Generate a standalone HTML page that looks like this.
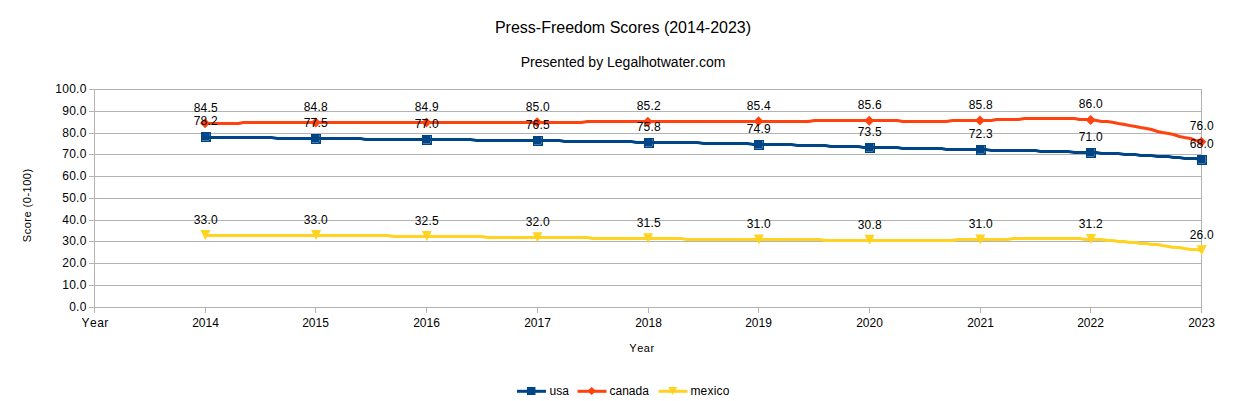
<!DOCTYPE html><html><head><meta charset="utf-8"><style>html,body{margin:0;padding:0;background:#fff;width:1246px;height:401px;overflow:hidden}text{font-family:"Liberation Sans",sans-serif;font-kerning:none;font-feature-settings:"kern" 0}</style></head><body><svg width="1246" height="401" viewBox="0 0 1246 401" style="display:block">
<rect width="1246" height="401" fill="#fff"/>
<line x1="89" y1="307.5" x2="1202" y2="307.5" stroke="#b3b3b3" stroke-width="1"/>
<text x="86.6" y="311.0" text-anchor="end" font-size="12" letter-spacing="0.25" fill="#000" >0.0</text>
<line x1="89" y1="285.5" x2="1202" y2="285.5" stroke="#b3b3b3" stroke-width="1"/>
<text x="86.6" y="289.0" text-anchor="end" font-size="12" letter-spacing="0.25" fill="#000" >10.0</text>
<line x1="89" y1="263.5" x2="1202" y2="263.5" stroke="#b3b3b3" stroke-width="1"/>
<text x="86.6" y="267.0" text-anchor="end" font-size="12" letter-spacing="0.25" fill="#000" >20.0</text>
<line x1="89" y1="241.5" x2="1202" y2="241.5" stroke="#b3b3b3" stroke-width="1"/>
<text x="86.6" y="245.0" text-anchor="end" font-size="12" letter-spacing="0.25" fill="#000" >30.0</text>
<line x1="89" y1="220.5" x2="1202" y2="220.5" stroke="#b3b3b3" stroke-width="1"/>
<text x="86.6" y="224.0" text-anchor="end" font-size="12" letter-spacing="0.25" fill="#000" >40.0</text>
<line x1="89" y1="198.5" x2="1202" y2="198.5" stroke="#b3b3b3" stroke-width="1"/>
<text x="86.6" y="202.0" text-anchor="end" font-size="12" letter-spacing="0.25" fill="#000" >50.0</text>
<line x1="89" y1="176.5" x2="1202" y2="176.5" stroke="#b3b3b3" stroke-width="1"/>
<text x="86.6" y="180.0" text-anchor="end" font-size="12" letter-spacing="0.25" fill="#000" >60.0</text>
<line x1="89" y1="154.5" x2="1202" y2="154.5" stroke="#b3b3b3" stroke-width="1"/>
<text x="86.6" y="158.0" text-anchor="end" font-size="12" letter-spacing="0.25" fill="#000" >70.0</text>
<line x1="89" y1="133.5" x2="1202" y2="133.5" stroke="#b3b3b3" stroke-width="1"/>
<text x="86.6" y="137.0" text-anchor="end" font-size="12" letter-spacing="0.25" fill="#000" >80.0</text>
<line x1="89" y1="111.5" x2="1202" y2="111.5" stroke="#b3b3b3" stroke-width="1"/>
<text x="86.6" y="115.0" text-anchor="end" font-size="12" letter-spacing="0.25" fill="#000" >90.0</text>
<line x1="89" y1="89.5" x2="1202" y2="89.5" stroke="#b3b3b3" stroke-width="1"/>
<text x="86.6" y="93.0" text-anchor="end" font-size="12" letter-spacing="0.25" fill="#000" >100.0</text>
<line x1="94.5" y1="89" x2="94.5" y2="313" stroke="#b3b3b3"/>
<line x1="1201.5" y1="89" x2="1201.5" y2="313" stroke="#b3b3b3"/>
<text x="95.2" y="327" text-anchor="middle" font-size="12" letter-spacing="0.45" fill="#000" >Year</text>
<line x1="205.5" y1="307" x2="205.5" y2="313" stroke="#b3b3b3"/>
<text x="205.5" y="327" text-anchor="middle" font-size="12" fill="#000" >2014</text>
<line x1="315.5" y1="307" x2="315.5" y2="313" stroke="#b3b3b3"/>
<text x="315.5" y="327" text-anchor="middle" font-size="12" fill="#000" >2015</text>
<line x1="426.5" y1="307" x2="426.5" y2="313" stroke="#b3b3b3"/>
<text x="426.5" y="327" text-anchor="middle" font-size="12" fill="#000" >2016</text>
<line x1="537.5" y1="307" x2="537.5" y2="313" stroke="#b3b3b3"/>
<text x="537.5" y="327" text-anchor="middle" font-size="12" fill="#000" >2017</text>
<line x1="648.5" y1="307" x2="648.5" y2="313" stroke="#b3b3b3"/>
<text x="648.5" y="327" text-anchor="middle" font-size="12" fill="#000" >2018</text>
<line x1="758.5" y1="307" x2="758.5" y2="313" stroke="#b3b3b3"/>
<text x="758.5" y="327" text-anchor="middle" font-size="12" fill="#000" >2019</text>
<line x1="869.5" y1="307" x2="869.5" y2="313" stroke="#b3b3b3"/>
<text x="869.5" y="327" text-anchor="middle" font-size="12" fill="#000" >2020</text>
<line x1="980.5" y1="307" x2="980.5" y2="313" stroke="#b3b3b3"/>
<text x="980.5" y="327" text-anchor="middle" font-size="12" fill="#000" >2021</text>
<line x1="1090.5" y1="307" x2="1090.5" y2="313" stroke="#b3b3b3"/>
<text x="1090.5" y="327" text-anchor="middle" font-size="12" fill="#000" >2022</text>
<text x="1201.5" y="327" text-anchor="middle" font-size="12" fill="#000" >2023</text>
<text x="642" y="352" text-anchor="middle" font-size="11" letter-spacing="0.55" fill="#000" >Year</text>
<text transform="translate(31,205.3) rotate(-90)" text-anchor="middle" font-size="11" letter-spacing="0.5" fill="#000" >Score (0-100)</text>
<text x="623" y="33" text-anchor="middle" font-size="16" fill="#000" >Press-Freedom Scores (2014-2023)</text>
<text x="623" y="67" text-anchor="middle" font-size="14" fill="#000" >Presented by Legalhotwater.com</text>
<polyline points="205.5,136.5 210.5,137.5 216.5,137.5 221.5,137.5 227.5,137.5 232.5,137.5 238.5,137.5 243.5,137.5 249.5,137.5 255.5,137.5 260.5,137.5 266.5,137.5 271.5,137.5 277.5,138.5 282.5,138.5 288.5,138.5 293.5,138.5 299.5,138.5 304.5,138.5 310.5,138.5 315.5,138.5 321.5,138.5 326.5,138.5 332.5,138.5 338.5,138.5 343.5,138.5 349.5,138.5 354.5,138.5 360.5,138.5 365.5,139.5 371.5,139.5 376.5,139.5 382.5,139.5 387.5,139.5 393.5,139.5 398.5,139.5 404.5,139.5 409.5,139.5 415.5,139.5 421.5,139.5 426.5,139.5 432.5,139.5 437.5,139.5 443.5,139.5 448.5,139.5 454.5,139.5 459.5,139.5 465.5,139.5 470.5,139.5 476.5,140.5 481.5,140.5 487.5,140.5 493.5,140.5 498.5,140.5 504.5,140.5 509.5,140.5 515.5,140.5 520.5,140.5 526.5,140.5 531.5,140.5 537.5,140.5 542.5,140.5 548.5,140.5 553.5,140.5 559.5,140.5 564.5,141.5 570.5,141.5 576.5,141.5 581.5,141.5 587.5,141.5 592.5,141.5 598.5,141.5 603.5,141.5 609.5,141.5 614.5,141.5 620.5,141.5 625.5,141.5 631.5,141.5 636.5,142.5 642.5,142.5 648.5,142.5 653.5,142.5 659.5,142.5 664.5,142.5 670.5,142.5 675.5,142.5 681.5,142.5 686.5,142.5 692.5,142.5 697.5,142.5 703.5,143.5 708.5,143.5 714.5,143.5 719.5,143.5 725.5,143.5 731.5,143.5 736.5,143.5 742.5,143.5 747.5,143.5 753.5,144.5 758.5,144.5 764.5,144.5 769.5,144.5 775.5,144.5 780.5,144.5 786.5,144.5 791.5,144.5 797.5,145.5 802.5,145.5 808.5,145.5 814.5,145.5 819.5,145.5 825.5,145.5 830.5,146.5 836.5,146.5 841.5,146.5 847.5,146.5 852.5,146.5 858.5,146.5 863.5,147.5 869.5,147.5 874.5,147.5 880.5,147.5 886.5,147.5 891.5,147.5 897.5,147.5 902.5,148.5 908.5,148.5 913.5,148.5 919.5,148.5 924.5,148.5 930.5,148.5 935.5,148.5 941.5,148.5 946.5,149.5 952.5,149.5 957.5,149.5 963.5,149.5 969.5,149.5 974.5,149.5 980.5,149.5 985.5,149.5 991.5,150.5 996.5,150.5 1002.5,150.5 1007.5,150.5 1013.5,150.5 1018.5,150.5 1024.5,150.5 1029.5,150.5 1035.5,150.5 1040.5,151.5 1046.5,151.5 1052.5,151.5 1057.5,151.5 1063.5,151.5 1068.5,151.5 1074.5,152.5 1079.5,152.5 1085.5,152.5 1090.5,152.5 1096.5,152.5 1101.5,153.5 1107.5,153.5 1112.5,153.5 1118.5,153.5 1124.5,154.5 1129.5,154.5 1135.5,154.5 1140.5,155.5 1146.5,155.5 1151.5,155.5 1157.5,156.5 1162.5,156.5 1168.5,156.5 1173.5,157.5 1179.5,157.5 1184.5,158.5 1190.5,158.5 1195.5,158.5 1201.5,159.5" fill="none" stroke="#004586" stroke-width="3" stroke-linejoin="round" stroke-linecap="butt"/>
<polyline points="205.5,123.5 210.5,123.5 216.5,123.5 221.5,123.5 227.5,123.5 232.5,123.5 238.5,123.5 243.5,122.5 249.5,122.5 255.5,122.5 260.5,122.5 266.5,122.5 271.5,122.5 277.5,122.5 282.5,122.5 288.5,122.5 293.5,122.5 299.5,122.5 304.5,122.5 310.5,122.5 315.5,122.5 321.5,122.5 326.5,122.5 332.5,122.5 338.5,122.5 343.5,122.5 349.5,122.5 354.5,122.5 360.5,122.5 365.5,122.5 371.5,122.5 376.5,122.5 382.5,122.5 387.5,122.5 393.5,122.5 398.5,122.5 404.5,122.5 409.5,122.5 415.5,122.5 421.5,122.5 426.5,122.5 432.5,122.5 437.5,122.5 443.5,122.5 448.5,122.5 454.5,122.5 459.5,122.5 465.5,122.5 470.5,122.5 476.5,122.5 481.5,122.5 487.5,122.5 493.5,122.5 498.5,122.5 504.5,122.5 509.5,122.5 515.5,122.5 520.5,122.5 526.5,122.5 531.5,122.5 537.5,122.5 542.5,122.5 548.5,122.5 553.5,122.5 559.5,122.5 564.5,122.5 570.5,122.5 576.5,122.5 581.5,122.5 587.5,121.5 592.5,121.5 598.5,121.5 603.5,121.5 609.5,121.5 614.5,121.5 620.5,121.5 625.5,121.5 631.5,121.5 636.5,121.5 642.5,121.5 648.5,121.5 653.5,121.5 659.5,121.5 664.5,121.5 670.5,121.5 675.5,121.5 681.5,121.5 686.5,121.5 692.5,121.5 697.5,121.5 703.5,121.5 708.5,121.5 714.5,121.5 719.5,121.5 725.5,121.5 731.5,121.5 736.5,121.5 742.5,121.5 747.5,121.5 753.5,121.5 758.5,121.5 764.5,121.5 769.5,121.5 775.5,121.5 780.5,121.5 786.5,121.5 791.5,121.5 797.5,121.5 802.5,121.5 808.5,121.5 814.5,120.5 819.5,120.5 825.5,120.5 830.5,120.5 836.5,120.5 841.5,120.5 847.5,120.5 852.5,120.5 858.5,120.5 863.5,120.5 869.5,120.5 874.5,120.5 880.5,120.5 885.5,120.5 891.5,120.5 897.5,120.5 902.5,121.5 908.5,121.5 913.5,121.5 919.5,121.5 924.5,121.5 930.5,121.5 935.5,121.5 941.5,121.5 946.5,121.5 952.5,120.5 957.5,120.5 963.5,120.5 969.5,120.5 974.5,120.5 980.5,120.5 985.5,120.5 991.5,120.5 996.5,119.5 1002.5,119.5 1007.5,119.5 1013.5,119.5 1018.5,119.5 1024.5,118.5 1030.5,118.5 1035.5,118.5 1041.5,118.5 1046.5,118.5 1052.5,118.5 1057.5,118.5 1063.5,118.5 1068.5,118.5 1074.5,118.5 1079.5,119.5 1085.5,119.5 1090.5,119.5 1096.5,120.5 1101.5,121.5 1107.5,121.5 1113.5,122.5 1118.5,123.5 1124.5,124.5 1129.5,125.5 1135.5,126.5 1140.5,127.5 1146.5,128.5 1151.5,129.5 1157.5,131.5 1162.5,132.5 1168.5,133.5 1173.5,134.5 1179.5,136.5 1184.5,137.5 1190.5,138.5 1195.5,140.5 1201.5,141.5" fill="none" stroke="#ff420e" stroke-width="3" stroke-linejoin="round" stroke-linecap="butt"/>
<polyline points="205.5,235.5 210.5,235.5 216.5,235.5 221.5,235.5 227.5,235.5 232.5,235.5 238.5,235.5 243.5,235.5 249.5,235.5 255.5,235.5 260.5,235.5 266.5,235.5 271.5,235.5 277.5,235.5 282.5,235.5 288.5,235.5 293.5,235.5 299.5,235.5 304.5,235.5 310.5,235.5 315.5,235.5 321.5,235.5 326.5,235.5 332.5,235.5 338.5,235.5 343.5,235.5 349.5,235.5 354.5,235.5 360.5,235.5 365.5,235.5 371.5,235.5 376.5,235.5 382.5,235.5 387.5,235.5 393.5,236.5 398.5,236.5 404.5,236.5 409.5,236.5 415.5,236.5 421.5,236.5 426.5,236.5 432.5,236.5 437.5,236.5 443.5,236.5 448.5,236.5 454.5,236.5 459.5,236.5 465.5,236.5 470.5,236.5 476.5,236.5 481.5,236.5 487.5,237.5 493.5,237.5 498.5,237.5 504.5,237.5 509.5,237.5 515.5,237.5 520.5,237.5 526.5,237.5 531.5,237.5 537.5,237.5 542.5,237.5 548.5,237.5 553.5,237.5 559.5,237.5 564.5,237.5 570.5,237.5 576.5,237.5 581.5,237.5 587.5,237.5 592.5,238.5 598.5,238.5 603.5,238.5 609.5,238.5 614.5,238.5 620.5,238.5 625.5,238.5 631.5,238.5 636.5,238.5 642.5,238.5 647.5,238.5 653.5,238.5 659.5,238.5 664.5,238.5 670.5,238.5 675.5,238.5 681.5,238.5 686.5,239.5 692.5,239.5 697.5,239.5 703.5,239.5 708.5,239.5 714.5,239.5 719.5,239.5 725.5,239.5 731.5,239.5 736.5,239.5 742.5,239.5 747.5,239.5 753.5,239.5 758.5,239.5 764.5,239.5 769.5,239.5 775.5,239.5 780.5,239.5 786.5,239.5 791.5,239.5 797.5,239.5 802.5,239.5 808.5,239.5 814.5,239.5 819.5,239.5 825.5,240.5 830.5,240.5 836.5,240.5 841.5,240.5 847.5,240.5 852.5,240.5 858.5,240.5 863.5,240.5 869.5,240.5 874.5,240.5 880.5,240.5 886.5,240.5 891.5,240.5 897.5,240.5 902.5,240.5 908.5,240.5 913.5,240.5 919.5,240.5 924.5,240.5 930.5,240.5 935.5,240.5 941.5,240.5 946.5,240.5 952.5,240.5 957.5,239.5 963.5,239.5 969.5,239.5 974.5,239.5 980.5,239.5 985.5,239.5 991.5,239.5 996.5,239.5 1002.5,239.5 1007.5,239.5 1013.5,238.5 1018.5,238.5 1024.5,238.5 1029.5,238.5 1035.5,238.5 1041.5,238.5 1046.5,238.5 1052.5,238.5 1057.5,238.5 1063.5,238.5 1068.5,238.5 1074.5,238.5 1079.5,238.5 1085.5,239.5 1090.5,239.5 1096.5,239.5 1101.5,239.5 1107.5,240.5 1112.5,240.5 1118.5,241.5 1124.5,241.5 1129.5,242.5 1135.5,242.5 1140.5,243.5 1146.5,243.5 1151.5,244.5 1157.5,244.5 1162.5,245.5 1168.5,246.5 1173.5,247.5 1179.5,247.5 1184.5,248.5 1190.5,249.5 1195.5,249.5 1201.5,250.5" fill="none" stroke="#ffd320" stroke-width="3" stroke-linejoin="round" stroke-linecap="butt"/>
<path d="M201 132h8v8h-8Z M210 132h1v10h-1Z M201 141h9v1h-9Z M209 132h1v1h-1Z M201 140h1v1h-1Z M209 140h1v1h-1Z" fill="#004586"/>
<rect x="209" y="133" width="1" height="7" fill="#004586" fill-opacity="0.72"/>
<rect x="202" y="140" width="7" height="1" fill="#004586" fill-opacity="0.72"/>
<path d="M311 134h8v8h-8Z M320 134h1v10h-1Z M311 143h9v1h-9Z M319 134h1v1h-1Z M311 142h1v1h-1Z M319 142h1v1h-1Z" fill="#004586"/>
<rect x="319" y="135" width="1" height="7" fill="#004586" fill-opacity="0.72"/>
<rect x="312" y="142" width="7" height="1" fill="#004586" fill-opacity="0.72"/>
<path d="M422 135h8v8h-8Z M431 135h1v10h-1Z M422 144h9v1h-9Z M430 135h1v1h-1Z M422 143h1v1h-1Z M430 143h1v1h-1Z" fill="#004586"/>
<rect x="430" y="136" width="1" height="7" fill="#004586" fill-opacity="0.72"/>
<rect x="423" y="143" width="7" height="1" fill="#004586" fill-opacity="0.72"/>
<path d="M533 136h8v8h-8Z M542 136h1v10h-1Z M533 145h9v1h-9Z M541 136h1v1h-1Z M533 144h1v1h-1Z M541 144h1v1h-1Z" fill="#004586"/>
<rect x="541" y="137" width="1" height="7" fill="#004586" fill-opacity="0.72"/>
<rect x="534" y="144" width="7" height="1" fill="#004586" fill-opacity="0.72"/>
<path d="M644 138h8v8h-8Z M653 138h1v10h-1Z M644 147h9v1h-9Z M652 138h1v1h-1Z M644 146h1v1h-1Z M652 146h1v1h-1Z" fill="#004586"/>
<rect x="652" y="139" width="1" height="7" fill="#004586" fill-opacity="0.72"/>
<rect x="645" y="146" width="7" height="1" fill="#004586" fill-opacity="0.72"/>
<path d="M754 140h8v8h-8Z M763 140h1v10h-1Z M754 149h9v1h-9Z M762 140h1v1h-1Z M754 148h1v1h-1Z M762 148h1v1h-1Z" fill="#004586"/>
<rect x="762" y="141" width="1" height="7" fill="#004586" fill-opacity="0.72"/>
<rect x="755" y="148" width="7" height="1" fill="#004586" fill-opacity="0.72"/>
<path d="M865 143h8v8h-8Z M874 143h1v10h-1Z M865 152h9v1h-9Z M873 143h1v1h-1Z M865 151h1v1h-1Z M873 151h1v1h-1Z" fill="#004586"/>
<rect x="873" y="144" width="1" height="7" fill="#004586" fill-opacity="0.72"/>
<rect x="866" y="151" width="7" height="1" fill="#004586" fill-opacity="0.72"/>
<path d="M976 145h8v8h-8Z M985 145h1v10h-1Z M976 154h9v1h-9Z M984 145h1v1h-1Z M976 153h1v1h-1Z M984 153h1v1h-1Z" fill="#004586"/>
<rect x="984" y="146" width="1" height="7" fill="#004586" fill-opacity="0.72"/>
<rect x="977" y="153" width="7" height="1" fill="#004586" fill-opacity="0.72"/>
<path d="M1086 148h8v8h-8Z M1095 148h1v10h-1Z M1086 157h9v1h-9Z M1094 148h1v1h-1Z M1086 156h1v1h-1Z M1094 156h1v1h-1Z" fill="#004586"/>
<rect x="1094" y="149" width="1" height="7" fill="#004586" fill-opacity="0.72"/>
<rect x="1087" y="156" width="7" height="1" fill="#004586" fill-opacity="0.72"/>
<path d="M1197 155h8v8h-8Z M1206 155h1v10h-1Z M1197 164h9v1h-9Z M1205 155h1v1h-1Z M1197 163h1v1h-1Z M1205 163h1v1h-1Z" fill="#004586"/>
<rect x="1205" y="156" width="1" height="7" fill="#004586" fill-opacity="0.72"/>
<rect x="1198" y="163" width="7" height="1" fill="#004586" fill-opacity="0.72"/>
<path d="M205.05 118.261L210.05 123.261L205.05 128.261L200.05 123.261Z" fill="#ff420e"/>
<path d="M315.75 117.608L320.75 122.608L315.75 127.608L310.75 122.608Z" fill="#ff420e"/>
<path d="M426.45 117.391L431.45 122.391L426.45 127.391L421.45 122.391Z" fill="#ff420e"/>
<path d="M537.15 117.173L542.15 122.173L537.15 127.173L532.15 122.173Z" fill="#ff420e"/>
<path d="M647.85 116.738L652.85 121.738L647.85 126.738L642.85 121.738Z" fill="#ff420e"/>
<path d="M758.55 116.303L763.55 121.303L758.55 126.303L753.55 121.303Z" fill="#ff420e"/>
<path d="M869.25 115.867L874.25 120.867L869.25 125.867L864.25 120.867Z" fill="#ff420e"/>
<path d="M979.95 115.432L984.95 120.432L979.95 125.432L974.95 120.432Z" fill="#ff420e"/>
<path d="M1090.65 114.997L1095.65 119.997L1090.65 124.997L1085.65 119.997Z" fill="#ff420e"/>
<path d="M1201.35 136.759L1206.35 141.759L1201.35 146.759L1196.35 141.759Z" fill="#ff420e"/>
<path d="M200.4 230.035L210.4 230.035L205.4 240.035Z" fill="#ffd320"/>
<path d="M311.1 230.035L321.1 230.035L316.1 240.035Z" fill="#ffd320"/>
<path d="M421.8 231.123L431.8 231.123L426.8 241.123Z" fill="#ffd320"/>
<path d="M532.5 232.212L542.5 232.212L537.5 242.212Z" fill="#ffd320"/>
<path d="M643.2 233.3L653.2 233.3L648.2 243.3Z" fill="#ffd320"/>
<path d="M753.9 234.388L763.9 234.388L758.9 244.388Z" fill="#ffd320"/>
<path d="M864.6 234.823L874.6 234.823L869.6 244.823Z" fill="#ffd320"/>
<path d="M975.3 234.388L985.3 234.388L980.3 244.388Z" fill="#ffd320"/>
<path d="M1086 233.953L1096 233.953L1091 243.953Z" fill="#ffd320"/>
<path d="M1196.7 245.269L1206.7 245.269L1201.7 255.269Z" fill="#ffd320"/>
<text x="205.85" y="125" text-anchor="middle" font-size="12" letter-spacing="0.25" fill="#000" >78.2</text>
<text x="315.85" y="127" text-anchor="middle" font-size="12" letter-spacing="0.25" fill="#000" >77.5</text>
<text x="426.85" y="128" text-anchor="middle" font-size="12" letter-spacing="0.25" fill="#000" >77.0</text>
<text x="537.85" y="129" text-anchor="middle" font-size="12" letter-spacing="0.25" fill="#000" >76.5</text>
<text x="648.85" y="131" text-anchor="middle" font-size="12" letter-spacing="0.25" fill="#000" >75.8</text>
<text x="758.85" y="133" text-anchor="middle" font-size="12" letter-spacing="0.25" fill="#000" >74.9</text>
<text x="869.85" y="136" text-anchor="middle" font-size="12" letter-spacing="0.25" fill="#000" >73.5</text>
<text x="980.85" y="138" text-anchor="middle" font-size="12" letter-spacing="0.25" fill="#000" >72.3</text>
<text x="1090.85" y="141" text-anchor="middle" font-size="12" letter-spacing="0.25" fill="#000" >71.0</text>
<text x="1201.85" y="148" text-anchor="middle" font-size="12" letter-spacing="0.25" fill="#000" >68.0</text>
<text x="205.85" y="112" text-anchor="middle" font-size="12" letter-spacing="0.25" fill="#000" >84.5</text>
<text x="315.85" y="111" text-anchor="middle" font-size="12" letter-spacing="0.25" fill="#000" >84.8</text>
<text x="426.85" y="111" text-anchor="middle" font-size="12" letter-spacing="0.25" fill="#000" >84.9</text>
<text x="537.85" y="111" text-anchor="middle" font-size="12" letter-spacing="0.25" fill="#000" >85.0</text>
<text x="648.85" y="110" text-anchor="middle" font-size="12" letter-spacing="0.25" fill="#000" >85.2</text>
<text x="758.85" y="110" text-anchor="middle" font-size="12" letter-spacing="0.25" fill="#000" >85.4</text>
<text x="869.85" y="109" text-anchor="middle" font-size="12" letter-spacing="0.25" fill="#000" >85.6</text>
<text x="980.85" y="109" text-anchor="middle" font-size="12" letter-spacing="0.25" fill="#000" >85.8</text>
<text x="1090.85" y="108" text-anchor="middle" font-size="12" letter-spacing="0.25" fill="#000" >86.0</text>
<text x="1201.85" y="130" text-anchor="middle" font-size="12" letter-spacing="0.25" fill="#000" >76.0</text>
<text x="205.85" y="224" text-anchor="middle" font-size="12" letter-spacing="0.25" fill="#000" >33.0</text>
<text x="315.85" y="224" text-anchor="middle" font-size="12" letter-spacing="0.25" fill="#000" >33.0</text>
<text x="426.85" y="225" text-anchor="middle" font-size="12" letter-spacing="0.25" fill="#000" >32.5</text>
<text x="537.85" y="226" text-anchor="middle" font-size="12" letter-spacing="0.25" fill="#000" >32.0</text>
<text x="648.85" y="227" text-anchor="middle" font-size="12" letter-spacing="0.25" fill="#000" >31.5</text>
<text x="758.85" y="228" text-anchor="middle" font-size="12" letter-spacing="0.25" fill="#000" >31.0</text>
<text x="869.85" y="229" text-anchor="middle" font-size="12" letter-spacing="0.25" fill="#000" >30.8</text>
<text x="980.85" y="228" text-anchor="middle" font-size="12" letter-spacing="0.25" fill="#000" >31.0</text>
<text x="1090.85" y="228" text-anchor="middle" font-size="12" letter-spacing="0.25" fill="#000" >31.2</text>
<text x="1201.85" y="239" text-anchor="middle" font-size="12" letter-spacing="0.25" fill="#000" >26.0</text>
<line x1="517" y1="391.3" x2="546" y2="391.3" stroke="#004586" stroke-width="3"/>
<rect x="526.95" y="387" width="8.5" height="8" fill="#004586"/>
<text x="549.5" y="395" font-size="12" fill="#000" >usa</text>
<line x1="577.5" y1="391.3" x2="606.5" y2="391.3" stroke="#ff420e" stroke-width="3"/>
<path d="M591.7 387L596.2 391L591.7 395L587.2 391Z" fill="#ff420e"/>
<text x="609.5" y="395" font-size="12" fill="#000" >canada</text>
<line x1="658.5" y1="391.3" x2="687.5" y2="391.3" stroke="#ffd320" stroke-width="3"/>
<path d="M668.2 387L677.2 387L672.7 395Z" fill="#ffd320"/>
<text x="690.4" y="395" font-size="12" letter-spacing="0.22" fill="#000" >mexico</text>
</svg></body></html>
